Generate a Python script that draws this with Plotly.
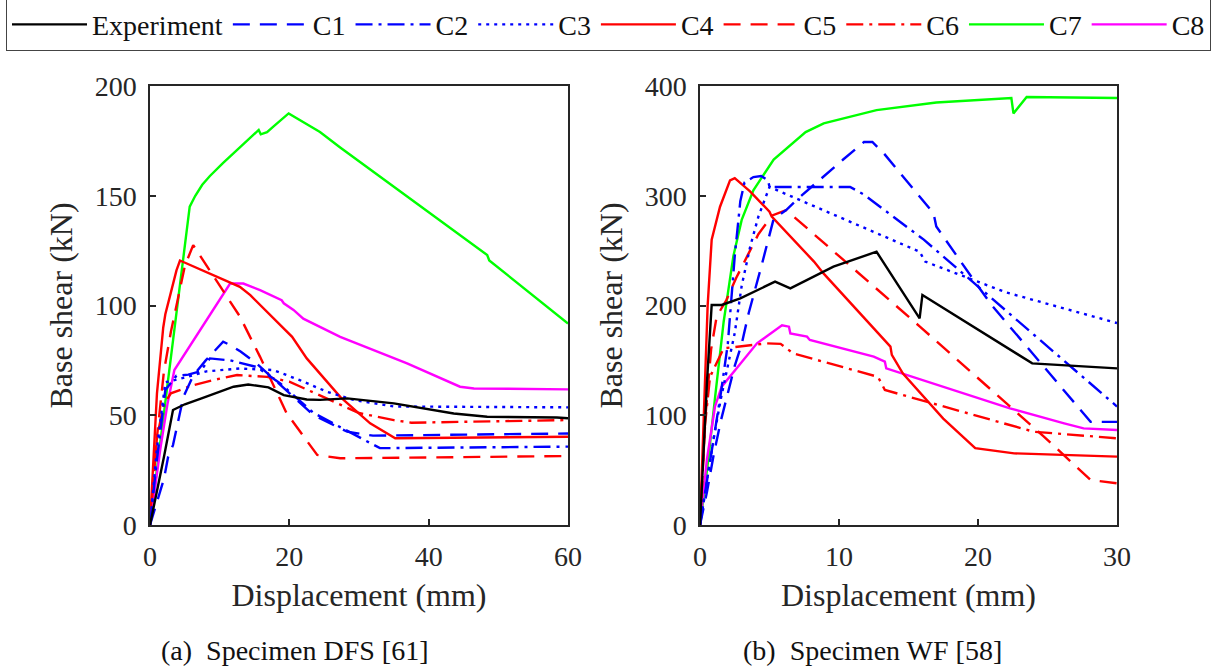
import plotly.graph_objects as go

# ---------------- Data: (a) Specimen DFS ----------------
exp_a_x = [0, 1, 2, 3.3, 5, 7.4, 10.1, 12, 14.1, 17, 19.2, 22.5, 24.4, 28.3, 35, 43.6, 48.4, 58.4, 60]
exp_a_y = [0, 15, 31, 52.4, 55, 57.7, 61, 63, 64, 62.7, 59.2, 57.2, 57, 57.7, 55.4, 50.8, 49.3, 49, 48.6]

c1_a_x = [0, 1, 2, 2.6, 3.3, 4.8, 6.2, 8, 9.8, 10.5, 11.5, 13, 15.3, 18.7, 23.5, 28.3, 32, 60]
c1_a_y = [0, 10, 21, 31, 36.4, 58.4, 68, 75, 81, 83.5, 82, 79, 73.6, 63.7, 50, 42.5, 40.7, 41.7]

c2_a_x = [0, 1, 2.2, 3.8, 5.5, 7.2, 8.6, 11.5, 15.3, 18.7, 23.5, 28.3, 33, 60]
c2_a_y = [0, 30, 61.5, 68, 68.5, 70, 75.9, 75, 72, 64.5, 51, 43, 35, 35.7]

c3_a_x = [0, 1, 2.2, 4.8, 8.1, 12.9, 17.7, 21.5, 25.4, 29.2, 35, 60]
c3_a_y = [0, 35, 65, 67, 70, 71.3, 70.6, 66, 60.7, 57, 54, 53.6]

c4_a_x = [0, 0.5, 1, 1.9, 2.2, 3, 3.8, 4.3, 5, 8.9, 12.9, 14.4, 20.4, 22.5, 27.3, 31.6, 35.2, 60]
c4_a_y = [0, 30, 60, 90, 96, 106, 116, 120.5, 119.5, 114, 108.5, 104.7, 85.7, 75.9, 58.4, 46.3, 39.5, 40.2]

c5_a_x = [0, 1, 2, 3, 4, 5, 6.2, 8.9, 12.9, 15.8, 19.6, 24, 27.3, 60]
c5_a_y = [0, 40, 70, 88, 103, 118, 127.5, 114.6, 95, 76.6, 51, 31.9, 30.4, 31.4]

c6_a_x = [0, 1, 2, 3, 6, 9, 12.5, 16.8, 20, 25, 30, 35, 37.5, 60]
c6_a_y = [0, 40, 55, 60, 63.5, 66, 68.3, 67.5, 65.3, 58, 51, 47.8, 46.6, 47.8]

c7_a_x = [0, 5.7, 6.5, 7.5, 8.6, 10.5, 12.9, 15, 15.6, 15.9, 16.8, 17.7, 19.9, 24.4, 27.3, 48.4, 48.7, 60]
c7_a_y = [0, 145, 150, 155, 159, 165, 172, 178.5, 180, 178, 179, 181.5, 187.5, 179, 172, 123, 120.5, 91.8]

c8_a_x = [0, 1.5, 2.5, 3.5, 11.5, 13.4, 15.8, 18.9, 19.2, 20.6, 22, 27.3, 36.9, 44.5, 46.5, 60]
c8_a_y = [0, 35, 55, 70.6, 110, 110, 107, 102.4, 101, 98, 94, 85.7, 73.6, 63, 62.2, 61.8]

# ---------------- Data: (b) Specimen WF ----------------
exp_b_x = [0, 0.5, 0.84, 1.56, 2.9, 5.4, 6.5, 9.6, 12.7, 15.8, 16.0, 23.9, 30]
exp_b_y = [0, 130, 200.5, 200.5, 206.5, 221.7, 215.6, 235.4, 249, 188.3, 209.6, 147.3, 142.7]

c1_b_x = [0, 0.5, 1, 1.5, 2, 2.5, 3, 3.5, 4.4, 5.3, 6.2, 7.2, 10.3, 11.8, 12.4, 13.2, 16.8, 17, 19.7, 21, 28.1, 30]
c1_b_y = [0, 30, 65, 95, 120, 145, 165, 193, 235, 279, 287, 299, 333, 349, 349, 339, 284, 272, 223, 200, 94, 94]

c2_b_x = [0, 0.5, 1, 1.5, 2, 2.5, 2.9, 3.2, 3.84, 4.4, 4.9, 5.0, 10.8, 11.8, 16.1, 30]
c2_b_y = [0, 40, 80, 120, 165, 245, 295, 312, 317, 318, 314, 308, 308, 301, 260, 108]

c3_b_x = [0, 0.5, 1, 1.5, 2, 2.5, 3, 3.6, 4.2, 5, 7.2, 15.8, 16.2, 22, 30]
c3_b_y = [0, 40, 80, 115, 145, 175, 218, 253, 281, 308, 296, 249, 240, 212, 184]

c4_b_x = [0, 0.3, 0.55, 0.84, 1.44, 2.16, 2.5, 3.6, 5.0, 5.16, 8.2, 8.9, 13.7, 13.8, 14.6, 17.5, 19.8, 22.6, 30]
c4_b_y = [0, 100, 200, 260, 290, 314, 316, 304, 285.5, 281, 240, 229, 162.5, 155, 138, 97, 70, 65.3, 62.3]

c5_b_x = [0, 0.4, 0.8, 1.2, 1.9, 2.6, 3.4, 4.2, 5.2, 6.2, 15.8, 24.7, 28.1, 30]
c5_b_y = [0, 100, 160, 190, 205, 225, 245, 265, 282, 287, 181, 81, 41, 38]

c6_b_x = [0, 0.35, 0.72, 1.7, 4.8, 5.8, 6.7, 12.8, 13.1, 13.3, 24, 30]
c6_b_y = [0, 90, 135, 161, 165.5, 165, 156.4, 135, 128, 123, 85, 79]

c7_b_x = [0, 0.6, 1.1, 1.7, 2.4, 3, 3.84, 5.3, 7.6, 8.9, 12.7, 17, 22.4, 22.55, 23.5, 30]
c7_b_y = [0, 60, 118, 185, 245, 278, 305, 333, 358, 366, 378, 385, 389, 375, 390, 389]

c8_b_x = [0, 0.5, 1.08, 1.56, 4.1, 5.9, 6.4, 6.5, 7.7, 7.9, 12.5, 13.3, 13.4, 22.3, 26.2, 27.6, 30]
c8_b_y = [0, 60, 108, 126, 165.5, 182, 180.7, 174.6, 171.6, 168.6, 153.4, 148.8, 142.7, 106.3, 92.6, 88, 86.6]

names = ["Experiment", "C1", "C2", "C3", "C4", "C5", "C6", "C7", "C8"]
colors = ["#000000", "#0000FF", "#0000FF", "#0000FF", "#FF0000", "#FF0000", "#FF0000", "#00FF00", "#FF00FF"]
dashes = ["solid", "17px,10px", "17px,6px,3px,6px", "3px,5px", "solid", "17px,10px", "17px,6px,3px,6px", "solid", "solid"]

series_a = [(exp_a_x, exp_a_y), (c1_a_x, c1_a_y), (c2_a_x, c2_a_y), (c3_a_x, c3_a_y), (c4_a_x, c4_a_y),
            (c5_a_x, c5_a_y), (c6_a_x, c6_a_y), (c7_a_x, c7_a_y), (c8_a_x, c8_a_y)]
series_b = [(exp_b_x, exp_b_y), (c1_b_x, c1_b_y), (c2_b_x, c2_b_y), (c3_b_x, c3_b_y), (c4_b_x, c4_b_y),
            (c5_b_x, c5_b_y), (c6_b_x, c6_b_y), (c7_b_x, c7_b_y), (c8_b_x, c8_b_y)]

FONT = "Liberation Serif"
fig = go.Figure()

order = [7, 8, 4, 5, 6, 1, 2, 3, 0]
for i in order:
    xa, ya = series_a[i]
    fig.add_trace(go.Scatter(x=xa, y=ya, mode="lines", name=names[i], legendrank=i + 1,
                             line=dict(color=colors[i], width=2.4, dash=dashes[i]),
                             xaxis="x", yaxis="y", showlegend=True))
for i in order:
    xb, yb = series_b[i]
    fig.add_trace(go.Scatter(x=xb, y=yb, mode="lines", name=names[i], legendrank=i + 1,
                             line=dict(color=colors[i], width=2.4, dash=dashes[i]),
                             xaxis="x2", yaxis="y2", showlegend=False))

W, H = 1217, 667
axis_common = dict(showline=True, mirror=True, linecolor="#262626", linewidth=1.5,
                   ticks="inside", ticklen=6, tickcolor="#262626", tickwidth=1.5,
                   showgrid=False, zeroline=False, automargin=False,
                   tickfont=dict(family=FONT, size=28, color="#262626"))
title_font = dict(family=FONT, size=32, color="#262626")

fig.update_layout(
    width=W, height=H,
    margin=dict(l=0, r=0, t=0, b=0, autoexpand=False),
    paper_bgcolor="white", plot_bgcolor="white",
    font=dict(family=FONT, size=28, color="#262626"),
    xaxis=dict(domain=[150 / W, 568 / W], range=[0, 60], dtick=20, anchor="y",
               title=dict(text="Displacement (mm)", font=title_font, standoff=12),
               ticklabelstandoff=6, **axis_common),
    yaxis=dict(domain=[1 - 525 / H, 1 - 86 / H], range=[0, 200], dtick=50, anchor="x",
               title=dict(text="Base shear (kN)", font=title_font, standoff=12),
               ticklabelstandoff=6, **axis_common),
    xaxis2=dict(domain=[700 / W, 1117 / W], range=[0, 30], dtick=10, anchor="y2",
                title=dict(text="Displacement (mm)", font=title_font, standoff=12),
                ticklabelstandoff=6, **axis_common),
    yaxis2=dict(domain=[1 - 525 / H, 1 - 86 / H], range=[0, 400], dtick=100, anchor="x2",
                title=dict(text="Base shear (kN)", font=title_font, standoff=12),
                ticklabelstandoff=6, **axis_common),
    legend=dict(orientation="h", x=0.5, xanchor="center", y=1.002, yanchor="top",
                bgcolor="white", bordercolor="#444444", borderwidth=1,
                font=dict(family=FONT, size=28, color="#111111"),
                itemwidth=75, traceorder="normal", tracegroupgap=0),
    annotations=[
        dict(text="(a)\u00a0 Specimen DFS [61]", x=295 / W, y=1 - 650 / H, xref="paper", yref="paper",
             xanchor="center", yanchor="middle",
             showarrow=False, font=dict(family=FONT, size=28, color="#111111")),
        dict(text="(b)\u00a0 Specimen WF [58]", x=872 / W, y=1 - 650 / H, xref="paper", yref="paper",
             xanchor="center", yanchor="middle",
             showarrow=False, font=dict(family=FONT, size=28, color="#111111")),
    ],
)

fig.write_html("out.html", config={"displayModeBar": False},
               post_script="document.body.style.margin='0';document.body.style.padding='0';")
